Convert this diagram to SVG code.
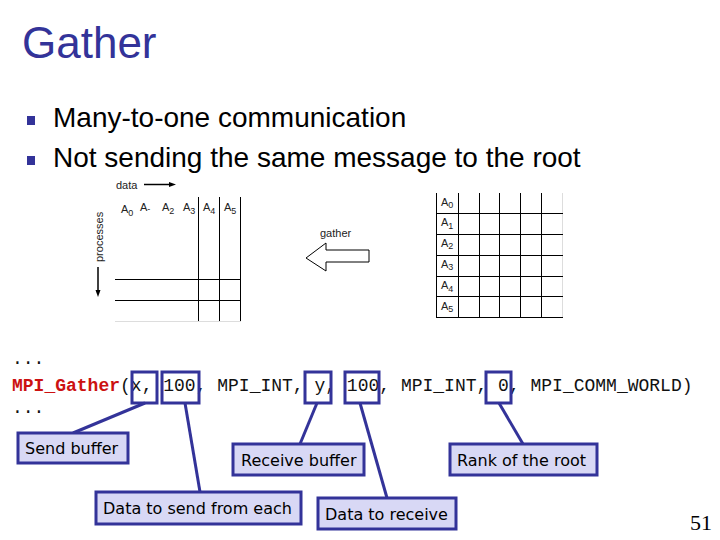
<svg xmlns="http://www.w3.org/2000/svg" width="720" height="540" viewBox="0 0 720 540">
<style>
.title{font-family:"Liberation Sans",Arial,sans-serif;font-size:44px;fill:#333399}
.bul{font-family:"Liberation Sans",Arial,sans-serif;font-size:28px;fill:#000}
.sm{font-family:"Liberation Sans",Arial,sans-serif;font-size:11px;fill:#222}
.sub{font-family:"Liberation Sans",Arial,sans-serif;font-size:9px;fill:#222}
.code{font-family:"Liberation Mono","Courier New",monospace;font-size:18px;fill:#111}
.red{fill:#cc1111;font-weight:bold}
.hl{fill:none;stroke:#333399;stroke-width:3}
.lab rect{fill:#d8d8f5;stroke:#333399;stroke-width:3}
.lab text{font-family:"DejaVu Sans",Verdana,sans-serif;font-size:16px;fill:#000}
.grid{stroke:#000;stroke-width:1;fill:none}
.faint{stroke:#ddd;stroke-width:1}
.conn line{stroke:#333399;stroke-width:3}
</style>
<rect width="720" height="540" fill="#fff"/>
<text class="title" x="22" y="58">Gather</text>
<rect x="27" y="116" width="8" height="9" fill="#333399"/>
<rect x="27" y="156" width="8" height="9" fill="#333399"/>
<text class="bul" x="53" y="127">Many-to-one communication</text>
<text class="bul" x="53" y="167">Not sending the same message to the root</text>

<g id="left-matrix">
<text class="sm" x="116" y="189">data</text>
<line x1="144" y1="184.5" x2="172" y2="184.5" stroke="#000" stroke-width="1.5"/>
<polygon points="176,184.5 169,182 169,187" fill="#000"/>
<text class="sm" transform="translate(103,262) rotate(-90)" font-size="12">processes</text>
<line x1="98" y1="267" x2="98" y2="292" stroke="#000" stroke-width="1.5"/>
<polygon points="98,297 95.5,290 100.5,290" fill="#000"/>
<text class="sm" x="121" y="213">A<tspan class="sub" dy="3">0</tspan></text>
<text class="sm" x="140" y="211">A<tspan class="sub" dy="1">-</tspan></text>
<text class="sm" x="162" y="211">A<tspan class="sub" dy="3">2</tspan></text>
<text class="sm" x="183" y="211">A<tspan class="sub" dy="3">3</tspan></text>
<text class="sm" x="203" y="211">A<tspan class="sub" dy="3">4</tspan></text>
<text class="sm" x="224" y="211">A<tspan class="sub" dy="3">5</tspan></text>
<line class="grid" x1="198.5" y1="197" x2="198.5" y2="322"/>
<line class="grid" x1="219.5" y1="197" x2="219.5" y2="322"/>
<line class="grid" x1="240.5" y1="197" x2="240.5" y2="322"/>
<line class="grid" x1="115" y1="279.5" x2="241" y2="279.5"/>
<line class="grid" x1="115" y1="300.5" x2="241" y2="300.5"/>
<line class="faint" x1="115" y1="321.5" x2="241" y2="321.5"/>
</g>

<g id="gather-arrow">
<text class="sm" x="320" y="237">gather</text>
<polygon points="306,258 326,243 326,250 369,250 369,262 326,262 326,271" fill="#fff" stroke="#000" stroke-width="1"/>
</g>

<g id="right-matrix">
<line class="grid" x1="436.5" y1="193" x2="436.5" y2="317"/>
<line class="grid" x1="458.5" y1="193" x2="458.5" y2="317"/>
<line class="grid" x1="479.5" y1="193" x2="479.5" y2="317"/>
<line class="grid" x1="499.5" y1="193" x2="499.5" y2="317"/>
<line class="grid" x1="520.5" y1="193" x2="520.5" y2="317"/>
<line class="grid" x1="541.5" y1="193" x2="541.5" y2="317"/>
<line class="faint" x1="562.5" y1="193" x2="562.5" y2="317"/>
<line class="grid" x1="436" y1="213.5" x2="563" y2="213.5"/>
<line class="grid" x1="436" y1="234.5" x2="563" y2="234.5"/>
<line class="grid" x1="436" y1="255.5" x2="563" y2="255.5"/>
<line class="grid" x1="436" y1="276.5" x2="563" y2="276.5"/>
<line class="grid" x1="436" y1="296.5" x2="563" y2="296.5"/>
<line class="grid" x1="436" y1="317.5" x2="563" y2="317.5"/>
<text class="sm" x="441" y="206">A<tspan class="sub" dy="2">0</tspan></text>
<text class="sm" x="441" y="226">A<tspan class="sub" dy="3">1</tspan></text>
<text class="sm" x="441" y="247">A<tspan class="sub" dy="2">2</tspan></text>
<text class="sm" x="441" y="268">A<tspan class="sub" dy="2">3</tspan></text>
<text class="sm" x="441" y="289">A<tspan class="sub" dy="3">4</tspan></text>
<text class="sm" x="441" y="310">A<tspan class="sub" dy="2">5</tspan></text>
</g>

<g id="code">
<text class="code" x="12" y="364">...</text>
<text class="code" x="12" y="391"><tspan class="red">MPI_Gather</tspan>(x, 100, MPI_INT, y, 100, MPI_INT, 0, MPI_COMM_WORLD)</text>
<text class="code" x="12" y="413">...</text>
<rect class="hl" x="132" y="372" width="25" height="31"/>
<rect class="hl" x="162" y="372" width="37" height="31"/>
<rect class="hl" x="305" y="372" width="26" height="31"/>
<rect class="hl" x="345" y="372" width="34" height="31"/>
<rect class="hl" x="486" y="372" width="25" height="31"/>
</g>

<g id="connectors" class="conn">
<line x1="145" y1="403" x2="73" y2="433"/>
<line x1="185" y1="403" x2="200" y2="492"/>
<line x1="317" y1="403" x2="300" y2="444"/>
<line x1="360" y1="403" x2="387" y2="498"/>
<line x1="499" y1="403" x2="523" y2="444"/>
</g>

<g id="send-buffer" class="lab"><rect x="18" y="433" width="110" height="30"/><text x="25" y="454">Send buffer</text></g>
<g id="receive-buffer" class="lab"><rect x="233" y="444" width="131" height="31"/><text x="241" y="466">Receive buffer</text></g>
<g id="data-send" class="lab"><rect x="96" y="492" width="205" height="32"/><text x="103" y="514">Data to send from each</text></g>
<g id="data-receive" class="lab"><rect x="318" y="498" width="138" height="31"/><text x="325" y="520">Data to receive</text></g>
<g id="rank-root" class="lab"><rect x="450" y="444" width="147" height="31"/><text x="457" y="466">Rank of the root</text></g>

<text x="690" y="530" font-family="Liberation Serif,'Times New Roman',serif" font-size="22" fill="#000">51</text>
</svg>
